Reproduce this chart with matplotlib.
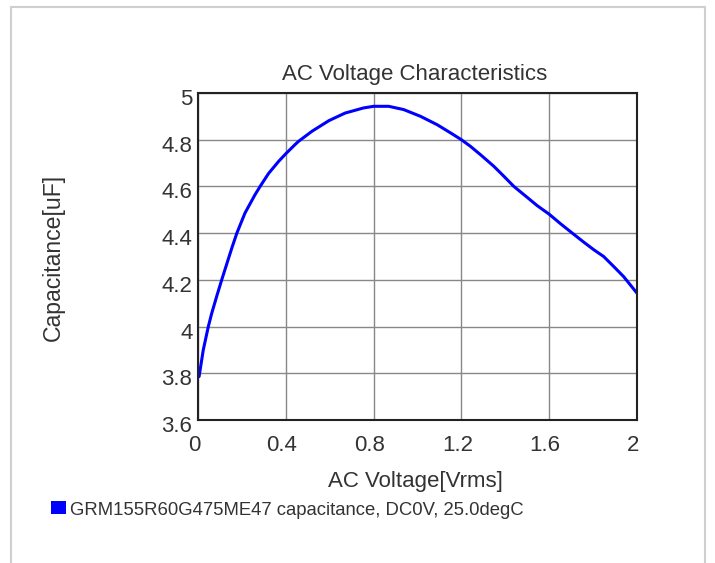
import matplotlib
matplotlib.use("Agg")
import matplotlib.pyplot as plt
from matplotlib.patches import Rectangle
from matplotlib.transforms import ScaledTranslation

voltage = [0.005, 0.024, 0.047, 0.062, 0.085, 0.108, 0.131, 0.154, 0.177, 0.214,
           0.26, 0.283, 0.321, 0.367, 0.40, 0.443, 0.458, 0.519, 0.597, 0.67,
           0.754, 0.80, 0.869, 0.937, 1.014, 1.09, 1.151, 1.20, 1.242, 1.288,
           1.348, 1.394, 1.439, 1.50, 1.545, 1.60, 1.652, 1.712, 1.758, 1.803,
           1.848, 1.894, 1.939, 2.0]
capacitance = [3.786, 3.90, 4.00, 4.055, 4.129, 4.20, 4.268, 4.336, 4.40, 4.486,
               4.565, 4.60, 4.655, 4.707, 4.74, 4.78, 4.793, 4.836, 4.882, 4.914,
               4.936, 4.943, 4.943, 4.929, 4.90, 4.864, 4.829, 4.80, 4.771, 4.735,
               4.686, 4.643, 4.60, 4.553, 4.518, 4.481, 4.44, 4.395, 4.361, 4.329,
               4.30, 4.257, 4.214, 4.143]
xticks = [0, 0.4, 0.8, 1.2, 1.6, 2]
xticklabels = ["0", "0.4", "0.8", "1.2", "1.6", "2"]
yticks = [3.6, 3.8, 4.0, 4.2, 4.4, 4.6, 4.8, 5.0]
yticklabels = ["3.6", "3.8", "4", "4.2", "4.4", "4.6", "4.8", "5"]
series_label = "GRM155R60G475ME47 capacitance, DC0V, 25.0degC"

plt.rcParams['font.family'] = ['Liberation Sans', 'DejaVu Sans']

W, H = 715, 563
fig = plt.figure(figsize=(W / 100, H / 100), dpi=100)
fig.patch.set_facecolor("white")

# outer frame
fig.patches.append(Rectangle((11 / W, -0.05), (705 - 11) / W, 1.05 - 7 / H,
                             transform=fig.transFigure, fill=False,
                             edgecolor="#cfcfcf", linewidth=1.5))

left, right, top, bottom = 198, 637, 93, 420
ax = fig.add_axes([left / W, 1 - bottom / H, (right - left) / W, (bottom - top) / H])
ax.plot(voltage, capacitance, color="#0000ff", linewidth=2.2,
        solid_joinstyle="round", solid_capstyle="round")
ax.set_xlim(0, 2)
ax.set_ylim(3.6, 5.0)
ax.set_xticks(xticks)
ax.set_xticklabels(xticklabels)
ax.set_yticks(yticks)
ax.set_yticklabels(yticklabels)
ax.tick_params(length=0, labelsize=16, colors="#333333")
ax.tick_params(axis="y", pad=4)
ax.tick_params(axis="x", pad=11)
ax.grid(True, color="#888888", linewidth=1.0)
ax.set_axisbelow(True)
for s in ax.spines.values():
    s.set_color("#222222")
    s.set_linewidth(1.5)

xoff = ScaledTranslation(-0.04, 0, fig.dpi_scale_trans)
for lab in ax.get_xticklabels():
    lab.set_transform(lab.get_transform() + xoff)
yoff = ScaledTranslation(0, -0.04, fig.dpi_scale_trans)
for lab in ax.get_yticklabels():
    lab.set_transform(lab.get_transform() + yoff)

fig.text(415 / W, 1 - 80 / H, "AC Voltage Characteristics", fontsize=16,
         color="#333333", ha="center", va="baseline")
fig.text(415 / W, 1 - 487 / H, "AC Voltage[Vrms]", fontsize=16,
         color="#333333", ha="center", va="baseline")
fig.text(53 / W, 1 - 257 / H, "Capacitance[uF]", rotation=90, fontsize=16.6,
         color="#333333", ha="center", va="center")

# legend
fig.patches.append(Rectangle((50.5 / W, 1 - 514 / H), 15.5 / W, 13 / H,
                             transform=fig.transFigure, facecolor="#0000ff",
                             edgecolor="none"))
fig.text(69.5 / W, 1 - 515 / H, series_label, fontsize=13.3, color="#333333",
         ha="left", va="baseline")

fig.savefig("out.png", dpi=100)
